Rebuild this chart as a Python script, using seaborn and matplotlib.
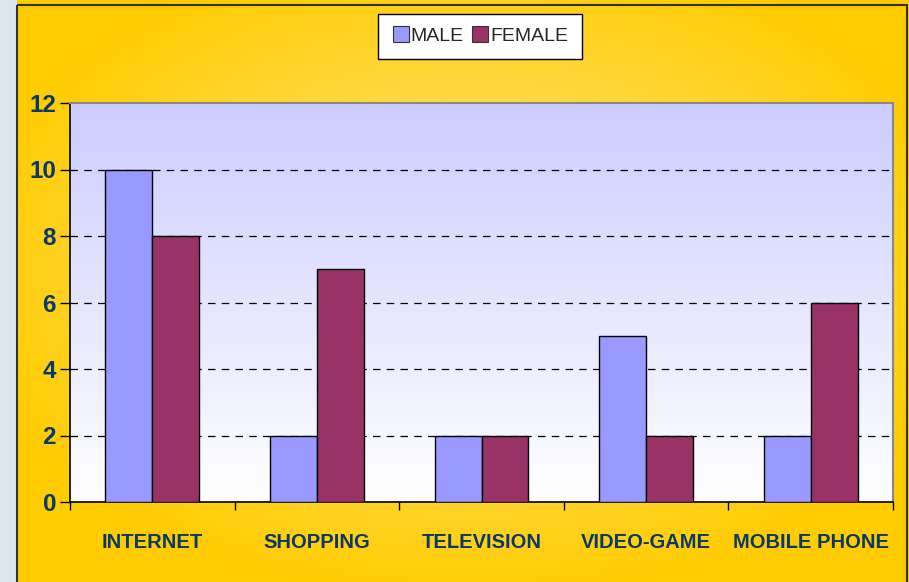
import numpy as np
import pandas as pd
import matplotlib.pyplot as plt
from matplotlib.lines import Line2D
from matplotlib.patches import Rectangle
import seaborn as sns

categories = ["INTERNET", "SHOPPING", "TELEVISION", "VIDEO-GAME", "MOBILE PHONE"]
male = [10, 2, 2, 5, 2]
female = [8, 7, 2, 2, 6]
series = ["MALE", "FEMALE"]
colors = ["#9999FF", "#993366"]
yticks = [0, 2, 4, 6, 8, 10, 12]

df = pd.DataFrame({
    "activity": categories * 2,
    "count": male + female,
    "sex": ["MALE"] * len(categories) + ["FEMALE"] * len(categories),
})

sns.set_style("white")
plt.rcParams["font.family"] = ["Liberation Sans", "DejaVu Sans"]

W, H = 909, 582
fig = plt.figure(figsize=(W / 100, H / 100), dpi=100)

# background: slide strip on the left, yellow panel with a soft light spot
bg = fig.add_axes([0, 0, 1, 1], zorder=-10)
yy, xx = np.mgrid[0:H, 0:W]
r = np.sqrt(((xx - 470) / 520.0) ** 2 + ((yy - 270) / 330.0) ** 2)
t = np.clip(r, 0, 1)[..., None]
light = np.array([1.0, 0.90, 0.55])
gold = np.array([1.0, 0.80, 0.0])
img = light * (1 - t) + gold * t
strip = (xx < 17)[..., None]
slide = np.array([0.87, 0.90, 0.94])
img = np.where(strip, slide, img)
bg.imshow(img, extent=[0, W, H, 0], aspect="auto")
bg.set_xlim(0, W)
bg.set_ylim(H, 0)
bg.add_patch(Rectangle((17, 5), W - 19, H, fill=False, edgecolor="#333333", lw=1.5))
bg.axis("off")

ax = fig.add_axes([70 / W, 1 - 502 / H, (893 - 70) / W, (502 - 103) / H])
sns.barplot(data=df, x="activity", y="count", hue="sex", hue_order=series,
            palette=colors, width=0.57, edgecolor="black", linewidth=1,
            saturation=1, legend=False, ax=ax, zorder=3)

# plot area gradient: lavender at top to white at bottom
grad = np.linspace(0, 1, 256)[:, None, None]
top = np.array([0.80, 0.80, 1.0])
bottom = np.array([1.0, 1.0, 1.0])
gimg = top * (1 - grad) + bottom * grad
ax.imshow(gimg, extent=[0, 1, 0, 1], transform=ax.transAxes, aspect="auto", zorder=0)

ax.set_xlim(-0.5, len(categories) - 0.5)
ax.set_ylim(0, 12)
ax.set_yticks(yticks)
for y in yticks[1:-1]:
    ax.axhline(y, color="black", lw=0.9, ls=(0, (6, 5)), zorder=1)

ax.set_xlabel("")
ax.set_ylabel("")
ax.set_xticks(range(len(categories)))
ax.set_xticklabels(categories)
ax.set_xticks(np.arange(-0.5, len(categories), 1), minor=True)
ax.tick_params(axis="x", which="major", bottom=True, length=0, pad=22)
ax.tick_params(axis="x", which="minor", bottom=True, length=6, width=1,
               color="black", direction="out")
ax.tick_params(axis="y", left=True, length=7, width=1, color="black",
               direction="out", pad=3)
for lab in ax.get_xticklabels():
    lab.set_fontsize(14.5)
    lab.set_fontweight("bold")
    lab.set_color("#0B3868")
for lab in ax.get_yticklabels():
    lab.set_fontsize(17.5)
    lab.set_fontweight("bold")
    lab.set_color("#0B3868")

for side in ["left", "bottom"]:
    ax.spines[side].set_color("black")
    ax.spines[side].set_linewidth(1.2)
for side in ["top", "right"]:
    ax.spines[side].set_color("#888888")
    ax.spines[side].set_linewidth(1.5)
    ax.spines[side].set_visible(True)

handles = [Line2D([], [], ls="", marker="s", markersize=11, markerfacecolor=c,
                  markeredgecolor="#333333", markeredgewidth=0.8) for c in colors]
leg = fig.legend(handles, series, loc="center", bbox_to_anchor=(480 / W, 1 - 36.5 / H),
                 ncol=2, frameon=True, fancybox=False, fontsize=14,
                 handletextpad=0.05, columnspacing=0.4, handlelength=0.9,
                 borderpad=0.7, borderaxespad=0)
leg.get_frame().set_edgecolor("black")
leg.get_frame().set_linewidth(1.0)
leg.get_frame().set_facecolor("white")
leg.get_frame().set_alpha(1)

fig.savefig("out.png", dpi=100)
